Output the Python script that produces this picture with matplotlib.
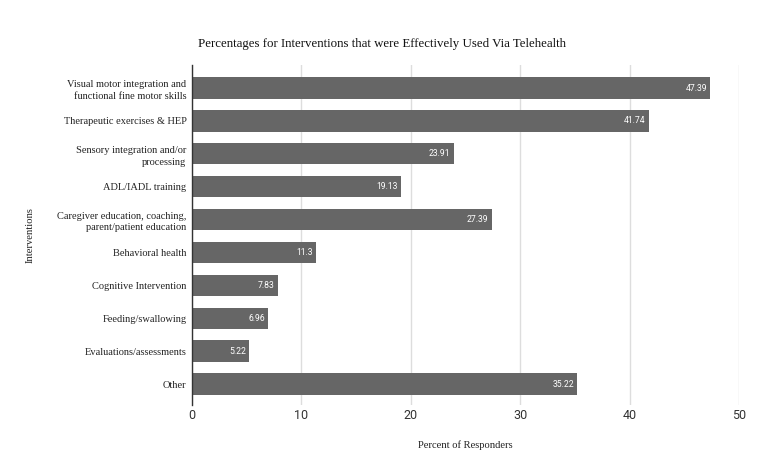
import matplotlib.pyplot as plt
import numpy as np

categories = [
    "Visual motor integration and\nfunctional fine motor skills",
    "Therapeutic exercises & HEP",
    "Sensory integration and/or\nprocessing",
    "ADL/IADL training",
    "Caregiver education, coaching,\nparent/patient education",
    "Behavioral health",
    "Cognitive Intervention",
    "Feeding/swallowing",
    "Evaluations/assessments",
    "Other",
]
values = [47.39, 41.74, 23.91, 19.13, 27.39, 11.3, 7.83, 6.96, 5.22, 35.22]
value_labels = ["47.39", "41.74", "23.91", "19.13", "27.39", "11.3", "7.83", "6.96", "5.22", "35.22"]
xticks = [0, 10, 20, 30, 40, 50]

serif = "Liberation Serif"
sans = "Roboto"

fig = plt.figure(figsize=(7.63, 4.71), dpi=100)
ax = fig.add_axes([0.2516, 0.14, 0.717, 0.722])

y = np.arange(len(categories))
ax.barh(y, values, height=0.65, color="#666666", zorder=3)

for yi, v, lab in zip(y, values, value_labels):
    ax.text(v - 0.3, yi, lab, ha="right", va="center", color="white",
            fontsize=6.2, family=sans, zorder=4)

ax.set_xlim(0, 50)
ax.set_ylim(9.64, -0.7)
ax.set_xticks(xticks)
ax.set_yticks(y)
ax.set_yticklabels(categories, family=serif, fontsize=7.5, color="#222222")
for t in ax.get_yticklabels():
    t.set_linespacing(1.4)
for t in ax.get_xticklabels():
    t.set_family(sans)
    t.set_fontsize(9)
    t.set_color("#333333")

ax.grid(axis="x", color="#dddddd", linewidth=1, zorder=0)
ax.tick_params(axis="y", length=0, pad=4)
ax.tick_params(axis="x", length=0, pad=3)
for s in ["top", "right", "bottom"]:
    ax.spines[s].set_visible(False)
ax.spines["left"].set_color("#333333")
ax.spines["left"].set_linewidth(1)
ax.spines["left"].set_zorder(5)

ax.set_xlabel("Percent of Responders", family=serif, fontsize=7.6, labelpad=13, color="#222222")
ax.set_ylabel("Interventions", family=serif, fontsize=7.6, color="#222222")
ax.yaxis.set_label_coords(-0.287, 0.5)
fig.text(0.5, 0.906, "Percentages for Interventions that were Effectively Used Via Telehealth",
         ha="center", va="center", family=serif, fontsize=9.3, color="#111111")

fig.savefig("out.png", dpi=100)
